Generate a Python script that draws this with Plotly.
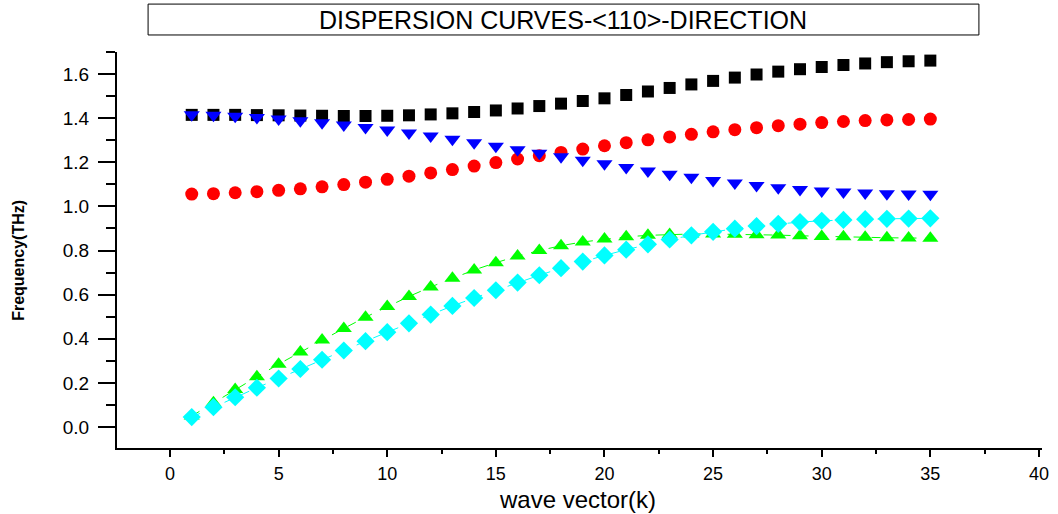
import plotly.graph_objects as go

k = list(range(1, 36))

black_sq = [1.415, 1.415, 1.415, 1.414, 1.413, 1.412, 1.411, 1.410, 1.410, 1.411,
            1.413, 1.417, 1.422, 1.428, 1.435, 1.444, 1.455, 1.466, 1.478, 1.490,
            1.505, 1.521, 1.537, 1.553, 1.569, 1.584, 1.598, 1.611, 1.622, 1.632,
            1.641, 1.648, 1.654, 1.658, 1.661]
red_circ = [1.056, 1.058, 1.062, 1.067, 1.073, 1.080, 1.089, 1.099, 1.110, 1.123,
            1.137, 1.152, 1.167, 1.183, 1.199, 1.215, 1.230, 1.245, 1.260, 1.275,
            1.289, 1.302, 1.315, 1.327, 1.338, 1.348, 1.357, 1.366, 1.373, 1.380,
            1.385, 1.389, 1.392, 1.394, 1.396]
blue_tri = [1.415, 1.413, 1.409, 1.403, 1.396, 1.388, 1.379, 1.369, 1.358, 1.346,
            1.333, 1.319, 1.304, 1.289, 1.273, 1.257, 1.241, 1.225, 1.209, 1.193,
            1.177, 1.161, 1.146, 1.132, 1.118, 1.106, 1.095, 1.085, 1.077, 1.070,
            1.065, 1.061, 1.058, 1.056, 1.055]
green_tri = [0.050, 0.110, 0.170, 0.228, 0.285, 0.340, 0.395, 0.447, 0.498, 0.546,
             0.592, 0.635, 0.675, 0.712, 0.745, 0.775, 0.800, 0.822, 0.839, 0.852,
             0.862, 0.869, 0.873, 0.875, 0.875, 0.874, 0.872, 0.870, 0.867, 0.864,
             0.862, 0.860, 0.858, 0.857, 0.856]
cyan_dia = [0.045, 0.090, 0.135, 0.178, 0.220, 0.263, 0.305, 0.347, 0.389, 0.430,
            0.470, 0.510, 0.549, 0.585, 0.620, 0.655, 0.688, 0.720, 0.750, 0.778,
            0.804, 0.828, 0.850, 0.869, 0.885, 0.899, 0.911, 0.921, 0.929, 0.935,
            0.939, 0.942, 0.944, 0.945, 0.946]

x_ticks = [0, 5, 10, 15, 20, 25, 30, 35, 40]
y_ticks = [0.0, 0.2, 0.4, 0.6, 0.8, 1.0, 1.2, 1.4, 1.6]
y_tick_text = ["0.0", "0.2", "0.4", "0.6", "0.8", "1.0", "1.2", "1.4", "1.6"]

title_text = "DISPERSION CURVES-&lt;110&gt;-DIRECTION"
x_label = "wave vector(k)"
y_label = "Frequency(THz)"

fig = go.Figure()

fig.add_trace(go.Scatter(x=k, y=green_tri, mode="lines+markers",
                         line=dict(color="#00ff00", width=1, dash="dash"),
                         marker=dict(symbol="triangle-up", size=14, color="#00ff00")))
fig.add_trace(go.Scatter(x=k, y=cyan_dia, mode="lines+markers",
                         line=dict(color="#00ffff", width=1, dash="dash"),
                         marker=dict(symbol="diamond", size=14, color="#00ffff")))
fig.add_trace(go.Scatter(x=k, y=black_sq, mode="markers",
                         marker=dict(symbol="square", size=12, color="black")))
fig.add_trace(go.Scatter(x=k, y=red_circ, mode="markers",
                         marker=dict(symbol="circle", size=13, color="#ff0000")))
fig.add_trace(go.Scatter(x=k, y=blue_tri, mode="markers",
                         marker=dict(symbol="triangle-down", size=14, color="#0000ff")))

axis_font = dict(family="Liberation Sans, Arial", size=19, color="black")

fig.update_layout(
    width=1058, height=514,
    margin=dict(l=117, r=16, t=52, b=66, autoexpand=False),
    paper_bgcolor="white", plot_bgcolor="white",
    showlegend=False,
    xaxis=dict(range=[-2.44, 40.14], tickmode="array", tickvals=x_ticks,
               automargin=False,
               showgrid=False, zeroline=False, showline=True, linecolor="black",
               linewidth=2, ticks="outside", ticklen=7, tickwidth=2, tickcolor="black",
               tickfont=dict(family="Liberation Sans, Arial", size=18, color="black"),
               ticklabelstandoff=1,
               minor=dict(dtick=2.5, tick0=0, ticks="outside", ticklen=4,
                          tickwidth=2, tickcolor="black", showgrid=False)),
    yaxis=dict(range=[-0.095, 1.70], tickmode="array", tickvals=y_ticks,
               ticktext=y_tick_text, automargin=False,
               showgrid=False, zeroline=False, showline=True, linecolor="black",
               linewidth=2, ticks="outside", ticklen=17, tickwidth=2, tickcolor="black",
               tickfont=axis_font, ticklabelstandoff=5,
               minor=dict(dtick=0.1, tick0=0, ticks="outside", ticklen=9,
                          tickwidth=2, tickcolor="black", showgrid=False)),
    shapes=[dict(type="rect", xref="paper", yref="paper",
                 x0=0.0336, x1=0.9318, y0=1.043, y1=1.121,
                 line=dict(color="black", width=1), fillcolor="white")],
    annotations=[
        dict(text=title_text, xref="paper", yref="paper", x=0.4826, y=1.082,
             showarrow=False, xanchor="center", yanchor="middle",
             font=dict(family="Liberation Sans, Arial", size=25, color="black")),
        dict(text=x_label, xref="paper", yref="paper", x=0.498, y=-0.131,
             showarrow=False, xanchor="center", yanchor="middle",
             font=dict(family="Liberation Sans, Arial", size=24, color="black")),
        dict(text="<b>" + y_label + "</b>", xref="paper", yref="paper",
             x=-0.106, y=0.475, showarrow=False, textangle=-90,
             xanchor="center", yanchor="middle",
             font=dict(family="Liberation Sans, Arial", size=16, color="black")),
    ],
)

fig.write_html("out.html", config={"displayModeBar": False},
               post_script="document.body.style.margin='0';")
